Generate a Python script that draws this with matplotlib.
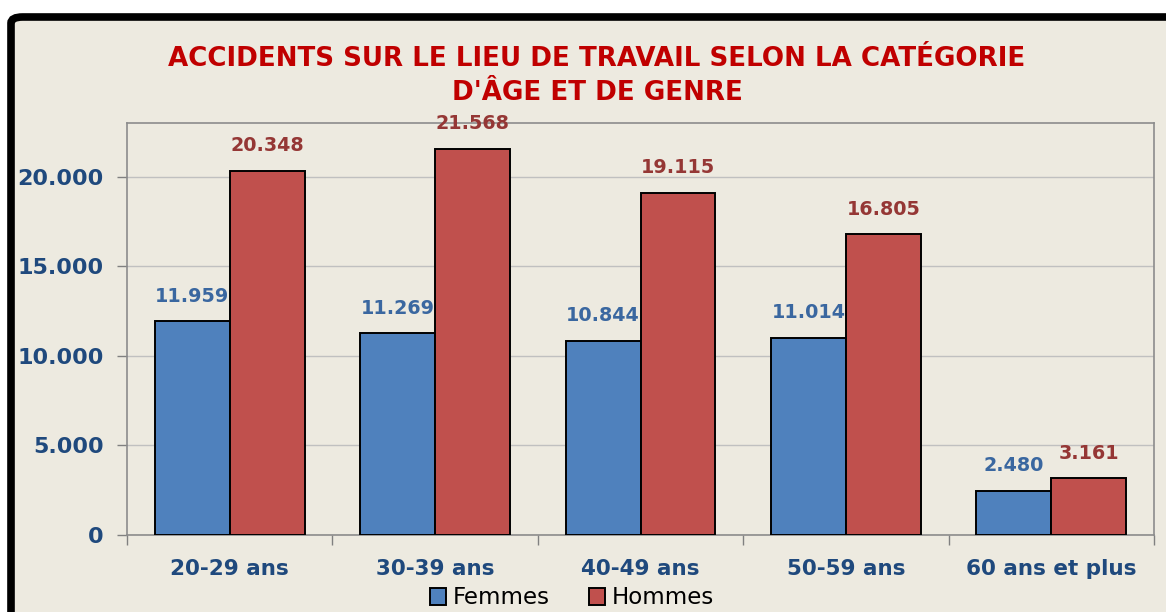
import numpy as np
import matplotlib
matplotlib.use("Agg")
import matplotlib.pyplot as plt
from matplotlib.patches import FancyBboxPatch

categories = ["20-29 ans", "30-39 ans", "40-49 ans", "50-59 ans", "60 ans et plus"]
femmes = [11959, 11269, 10844, 11014, 2480]
hommes = [20348, 21568, 19115, 16805, 3161]
yticks = [0, 5000, 10000, 15000, 20000]


def fmt(v):
    # thousands separator as a dot, like the original
    return "{:,}".format(v).replace(",", ".")


bg = "#EDEAE0"
fig = plt.figure(figsize=(11.66, 6.12), dpi=100, facecolor="white")

# black frame around the chart area (runs off right and bottom edges)
W, H = 1166.0, 612.0
frame = FancyBboxPatch((11 / W, -0.2), 1.3, (595 / H) + 0.2,
                       boxstyle="round,pad=0,rounding_size=0.01",
                       transform=fig.transFigure, facecolor=bg,
                       edgecolor="black", linewidth=5.5, zorder=-10)
fig.patches.append(frame)

ax = fig.add_axes([127 / W, 1 - 535 / H, (1154 - 127) / W, (535 - 123) / H])
ax.set_zorder(1)
ax.set_facecolor(bg)

x = np.arange(len(categories))
w = 0.365
bf = ax.bar(x - w / 2, femmes, w, color="#4F81BD", edgecolor="black",
            linewidth=1.4, label="Femmes", zorder=3)
bh = ax.bar(x + w / 2, hommes, w, color="#C0504D", edgecolor="black",
            linewidth=1.4, label="Hommes", zorder=3)

for rect, v in zip(bf, femmes):
    ax.annotate(fmt(v), (rect.get_x() + rect.get_width() / 2, v),
                xytext=(0, 11), textcoords="offset points", ha="center",
                va="bottom", fontsize=13.8, fontweight="bold", color="#3A67A0")
for rect, v in zip(bh, hommes):
    ax.annotate(fmt(v), (rect.get_x() + rect.get_width() / 2, v),
                xytext=(0, 11), textcoords="offset points", ha="center",
                va="bottom", fontsize=13.8, fontweight="bold", color="#953735")

ax.set_xlim(-0.5, len(categories) - 0.5)
ax.set_ylim(0, 23000)
ax.set_yticks(yticks)
ax.set_yticklabels([fmt(v) for v in yticks], fontsize=16, fontweight="bold",
                   color="#1F497D")
ax.set_xticks(x)
ax.set_xticklabels(categories, fontsize=15.5, fontweight="bold", color="#1F497D")
ax.tick_params(axis="x", length=0, pad=17)
ax.tick_params(axis="y", length=7, width=1, color="#808080", pad=10)
ax.set_xticks(np.arange(-0.5, len(categories)), minor=True)
ax.tick_params(axis="x", which="minor", length=7, width=1, color="#808080")

ax.grid(axis="y", color="#C0C0C0", linewidth=1, zorder=0)
for side in ["left", "bottom", "right", "top"]:
    ax.spines[side].set_color("#8C8C8C")
    ax.spines[side].set_linewidth(1.2)

fig.text(597 / W, 1 - 76 / H,
         "ACCIDENTS SUR LE LIEU DE TRAVAIL SELON LA CATÉGORIE\nD'ÂGE ET DE GENRE",
         ha="center", va="center", fontsize=18.8, fontweight="bold",
         color="#C00000", linespacing=1.42)

leg = fig.legend(handles=[bf, bh], loc="center", bbox_to_anchor=(572 / W, 1 - 598 / H),
                 ncol=2, frameon=False, fontsize=16.5, handlelength=0.7,
                 handleheight=0.7, handletextpad=0.3, columnspacing=1.7,
                 borderpad=0)

fig.savefig("out.png", dpi=100, facecolor=fig.get_facecolor())
